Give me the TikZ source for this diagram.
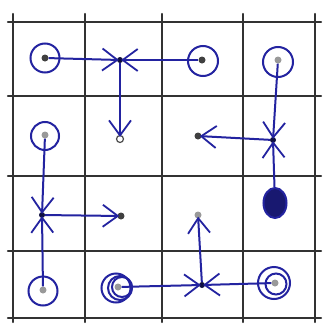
\documentclass[tikz,border=0pt]{standalone}
\usetikzlibrary{arrows.meta,shapes.geometric}
\definecolor{pen}{RGB}{35,35,160}
\definecolor{pencil}{RGB}{50,50,50}
\tikzset{
  grid/.style={draw=pencil,line width=2.4pt,line cap=round},
  ring/.style={circle,draw=pen,line width=2pt,minimum size=29pt,inner sep=0pt},
  blob/.style={ellipse,draw=pen,fill=pen!70!black,line width=2pt,minimum width=23pt,minimum height=30pt,inner sep=0pt},
  dot/.style={circle,fill=black!75,minimum size=7pt,inner sep=0pt},
  gdot/.style={circle,fill=black!40,minimum size=7pt,inner sep=0pt},
  odot/.style={circle,draw=black!70,fill=white,line width=1.2pt,minimum size=7pt,inner sep=0pt},
  hub/.style={circle,fill=pen!40!black,minimum size=6pt,inner sep=0pt},
  flow/.style={-{Straight Barb[length=15pt,width=22pt,line width=1.8pt]},draw=pen,line width=2pt,shorten >=-2pt},
}
\begin{document}
\begin{tikzpicture}[x=1pt,y=-1pt]
  \fill[white] (0,0) rectangle (326,327);
  \useasboundingbox (0,0) rectangle (326,327);
  % pencil grid
  \foreach \x in {13,85,162,243,315} \draw[grid] (\x,14) -- (\x,322);
  \foreach \y in {22,96,176,251,318} \draw[grid] (8,\y) -- (321,\y);
  % top row
  \node[ring] at (45,58) {};
  \node[dot] (d00) at (45,58) {};
  \node[hub] (h10) at (120,60) {};
  \node[ring,minimum size=30pt] at (203,61) {};
  \node[dot] (d20) at (202,60) {};
  \node[ring,minimum size=30pt] at (278,62) {};
  \node[gdot] (d30) at (278,60) {};
  % second row
  \node[ring,minimum size=28pt] at (45,136) {};
  \node[gdot] (d01) at (45,135) {};
  \node[odot] (p11) at (120,139) {};
  \node[dot] (p21) at (198,136) {};
  \node[hub] (h31) at (273,140) {};
  % third row
  \node[hub] (h02) at (42,215) {};
  \node[dot] (p12) at (121,216) {};
  \node[gdot] (p22) at (198,215) {};
  \node[blob] (b32) at (275,203) {};
  % bottom row
  \node[ring] at (43,291) {};
  \node[gdot] (d03) at (43,290) {};
  \node[ring] at (116,288) {};
  \node[ring,minimum size=24pt] at (120,288) {};
  \node[ring,minimum size=20pt] at (122,287) {};
  \node[gdot] (d13) at (118,287) {};
  \node[hub] (h23) at (202,285) {};
  \node[ring,minimum size=32pt] at (274,283) {};
  \node[ring,minimum size=21pt] at (276,284) {};
  \node[gdot] (d33) at (275,283) {};
  % arrows
  \draw[flow] (d00) -- (h10);
  \draw[flow] (d20) -- (h10);
  \draw[flow] (h10) -- (p11);
  \draw[flow] (d30) -- (h31);
  \draw[flow] (b32) -- (h31);
  \draw[flow] (h31) -- (p21);
  \draw[flow] (d01) -- (h02);
  \draw[flow] (d03) -- (h02);
  \draw[flow] (h02) -- (p12);
  \draw[flow] (d13) -- (h23);
  \draw[flow] (d33) -- (h23);
  \draw[flow] (h23) -- (p22);
\end{tikzpicture}
\end{document}
